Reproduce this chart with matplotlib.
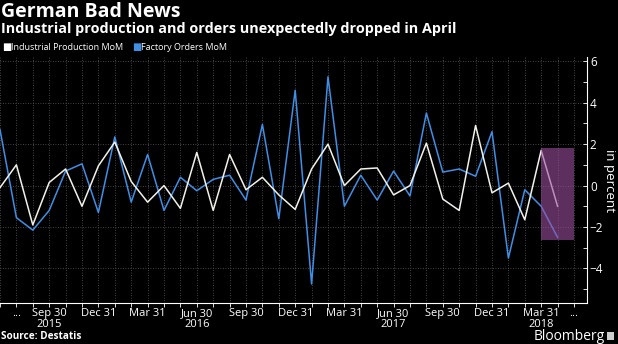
import matplotlib
matplotlib.use("Agg")
import matplotlib.pyplot as plt
from matplotlib.patches import Rectangle

plt.rcParams["font.family"] = ["Open Sans", "DejaVu Sans"]

# monthly index: 0 = Jun 2015 ... 34 = Apr 2018
months = list(range(35))
industrial = [-0.1, 1.0, -1.9, 0.15, 0.8, -1.0, 0.95, 2.1, 0.2, -0.8, 0.0, -1.1,
              1.6, -1.2, 1.5, -0.2, 0.4, -0.45, -1.15, 0.8, 2.0, 0.0, 0.8, 0.85,
              -0.45, 0.0, 2.05, -0.65, -1.2, 2.9, -0.35, 0.12, -1.65, 1.7, -1.0]
orders = [2.7, -1.55, -2.15, -1.2, 0.7, 1.05, -1.3, 2.35, -0.8, 1.5, -1.2, 0.4,
          -0.25, 0.3, 0.5, -0.7, 2.95, -1.6, 4.6, -4.75, 5.25, -1.0, 0.5, -0.7,
          0.7, -0.5, 3.5, 0.65, 0.8, 0.45, 2.6, -3.5, -0.2, -1.0, -2.5]

tick_pos = [1, 3, 6, 9, 12, 15, 18, 21, 24, 27, 30, 33, 35]
tick_labels = ["...", "Sep 30\n2015", "Dec 31", "Mar 31", "Jun 30\n2016", "Sep 30",
               "Dec 31", "Mar 31", "Jun 30\n2017", "Sep 30", "Dec 31",
               "Mar 31\n2018", "..."]

fg = "white"
fig = plt.figure(figsize=(6.18, 3.44), dpi=100, facecolor="black")
ax = fig.add_axes([0.0, 0.119, 0.95, 0.715], facecolor="black")

ax.plot(months, orders, color="#3f8fe6", lw=1.1, zorder=3)
ax.plot(months, industrial, color="#f2f2ea", lw=1.1, zorder=4)

# highlight of the latest reading
ax.add_patch(Rectangle((33, -2.64), 2, 4.46, facecolor="#9a4fa0", alpha=0.6,
                       edgecolor="none", zorder=5))

ax.set_xlim(0.09, 35.8)
ax.set_ylim(-5.67, 6.2)

for m in months + [35]:
    ax.axvline(m, color="#5a5a5a", lw=0.6, ls=(0, (1, 2)), zorder=1)
for v in [-4, -2, 0, 2, 4, 6]:
    ax.axhline(v, color="#5a5a5a", lw=0.6, ls=(0, (1, 2)), zorder=1)

ax.set_xticks(tick_pos)
ax.set_xticklabels(tick_labels, fontsize=8, color=fg, linespacing=0.95)
ax.set_xticks(months, minor=True)
ax.tick_params(axis="x", which="both", colors=fg, direction="out", length=3,
               width=0.6, pad=0.5)

ax.yaxis.tick_right()
ax.yaxis.set_label_position("right")
ax.set_yticks([-4, -2, 0, 2, 4, 6])
ax.set_yticks([-5, -3, -1, 1, 3, 5], minor=True)
ax.tick_params(axis="y", which="both", colors=fg, direction="in", length=3,
               width=0.6, labelsize=8.5, pad=2)
ax.set_ylabel("in percent", rotation=270, color=fg, fontsize=9.5, labelpad=9)

for s in ["left", "top"]:
    ax.spines[s].set_visible(False)
for s in ["right", "bottom"]:
    ax.spines[s].set_color(fg)
    ax.spines[s].set_linewidth(0.8)

fig.text(0.002, 0.995, "German Bad News", color=fg, fontsize=14, fontweight="bold",
         ha="left", va="top")
fig.text(0.002, 0.935, "Industrial production and orders unexpectedly dropped in April",
         color=fg, fontsize=10.4, fontweight="bold", ha="left", va="top")

# legend
fig.text(0.004, 0.862, "■", color="white", fontsize=7, ha="left", va="center",
         family="DejaVu Sans")
fig.text(0.018, 0.862, "Industrial Production MoM", color=fg, fontsize=6.5,
         ha="left", va="center")
fig.text(0.214, 0.862, "■", color="#3f8fe6", fontsize=7, ha="left", va="center",
         family="DejaVu Sans")
fig.text(0.228, 0.862, "Factory Orders MoM", color=fg, fontsize=6.5,
         ha="left", va="center")

fig.text(0.002, 0.005, "Source: Destatis", color=fg, fontsize=7.2, fontweight="bold",
         ha="left", va="bottom")
fig.text(0.978, 0.0, "Bloomberg", color=fg, fontsize=10,
         ha="right", va="bottom")
fig.patches.append(Rectangle((0.982, 0.012), 0.012, 0.024, transform=fig.transFigure,
                             facecolor="#cccccc", edgecolor="none"))

fig.savefig("out.png", dpi=100, facecolor="black")
